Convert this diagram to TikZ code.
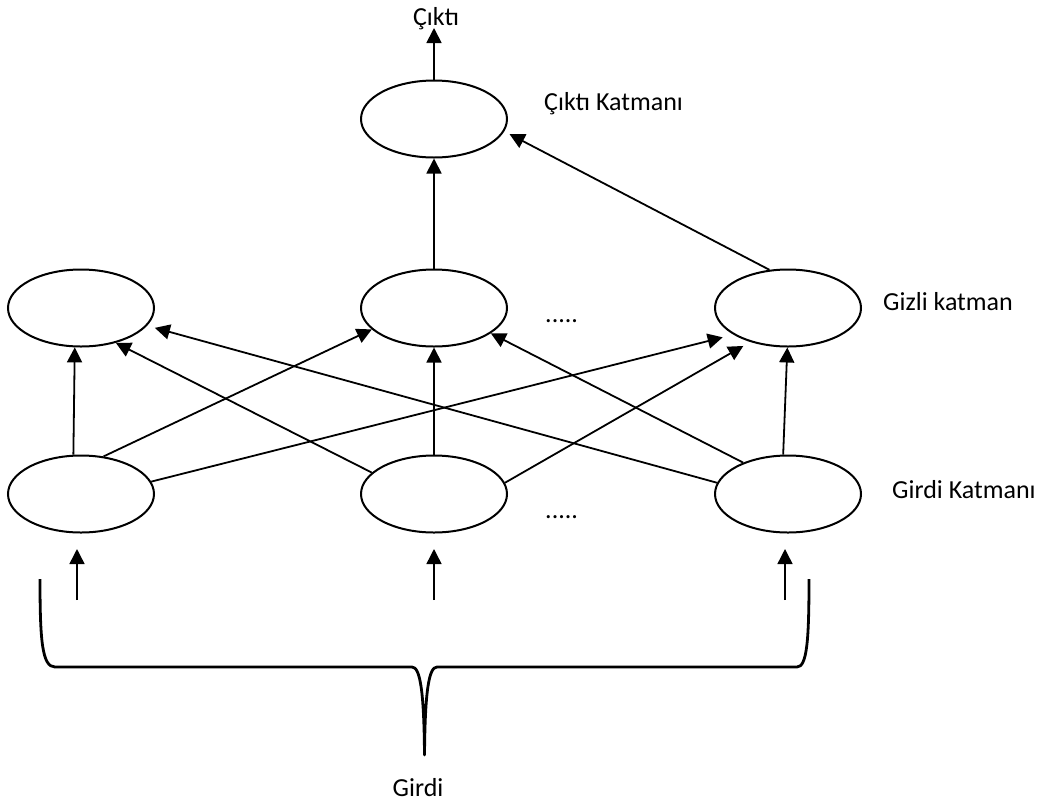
\documentclass[tikz,border=0pt]{standalone}
\usepackage{fontspec}
\setmainfont{Carlito}
\usetikzlibrary{shapes.geometric,arrows.meta}
\begin{document}
\begin{tikzpicture}[x=1pt,y=-1pt,
  neuron/.style={draw,line width=2pt,ellipse,minimum width=146pt,minimum height=77pt,inner sep=0pt},
  conn/.style={line width=1.8pt,-{Triangle[length=15pt,width=15pt]}},
  inarrow/.style={line width=1.5pt,-{Triangle[length=15pt,width=15pt]}},
  bracestyle/.style={line width=2.8pt,line join=round},
  lbl/.style={font=\fontsize{26}{31}\selectfont,inner sep=0pt}]
\useasboundingbox (0,0) rectangle (1051,801);

% nodes
\node[neuron] (out) at (434,119) {};
\node[neuron] (h1) at (81,308) {};
\node[neuron] (h2) at (434,308) {};
\node[neuron] (h3) at (788,308) {};
\node[neuron] (i1) at (81,494) {};
\node[neuron] (i2) at (434,494) {};
\node[neuron] (i3) at (788,494) {};

\coordinate (outtip) at (434,28);
\coordinate (a1) at (77,600);
\coordinate (b1) at (77,549);
\coordinate (a2) at (434,600);
\coordinate (b2) at (434,549);
\coordinate (a3) at (785,600);
\coordinate (b3) at (785,549);

% labels
\node[lbl,anchor=base] (toplbl) at (436,25) {Çıktı};
\node[lbl,anchor=base west] (outlbl) at (544,110) {Çıktı Katmanı};
\node[lbl,anchor=base west] (hidlbl) at (883,310) {Gizli katman};
\node[lbl,anchor=base west] (inlbl) at (892,498) {Girdi Katmanı};
\node[lbl,anchor=base] (girdi) at (418,796) {Girdi};
\node[lbl,anchor=base west] (dots1) at (545,322) {.....};
\node[lbl,anchor=base west] (dots2) at (545,518) {.....};

% connectors
\draw[conn] (out.north) -- (outtip);
\draw[conn] (h2.north) -- (out.south);
\draw[conn, shorten >=6pt] (h3.116.6) -- (out.-10.4);

\draw[conn] (i1.101.6) -- (h1.-99.9);
\draw[conn] (i1.59.5) -- (h2.199.5);
\draw[conn, shorten >=11pt] (i1.10) -- (h3.206.9);

\draw[conn] (i2.161.8) -- (h1.-45);
\draw[conn] (i2.north) -- (h2.south);
\draw[conn, shorten >=8pt] (i2.9) -- (h3.222.9);

\draw[conn] (i3.145.4) -- (h2.-24.4);
\draw[conn, shorten >=8pt] (i3.171.7) -- (h1.-15.1);
\draw[conn] (i3.97.3) -- (h3.-91.5);

% input arrows
\draw[inarrow] (a1) -- (b1);
\draw[inarrow] (a2) -- (b2);
\draw[inarrow] (a3) -- (b3);

% brace
\draw[bracestyle] (40,579) .. controls (40,640) and (42,667) .. (55,667)
  -- (412,667) .. controls (420,667) and (424,690) .. (424.5,755)
  .. controls (425,690) and (429,667) .. (437,667)
  -- (797,667) .. controls (807,667) and (809,640) .. (809,579);
\end{tikzpicture}
\end{document}
